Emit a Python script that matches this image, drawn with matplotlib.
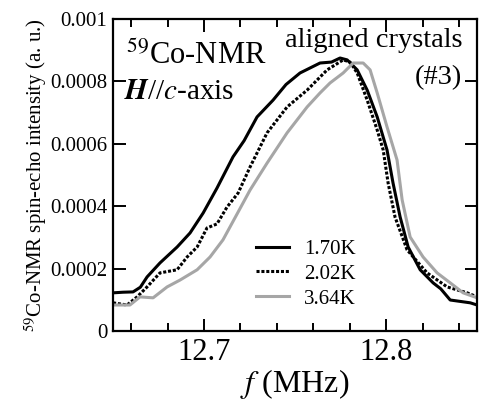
import matplotlib
matplotlib.use("Agg")
import matplotlib.pyplot as plt
from matplotlib.ticker import MultipleLocator

plt.rcParams['font.family'] = ['Liberation Serif', 'DejaVu Serif']
plt.rcParams['mathtext.fontset'] = 'stix'

# spectra
# 1.70 K
f_170 = [12.650, 12.6555, 12.661, 12.6650, 12.6687, 12.6758, 12.6852, 12.6923, 12.6995, 12.7071,
         12.7159, 12.7220, 12.7291, 12.7379, 12.7450, 12.7527, 12.7637, 12.7700, 12.7747, 12.7786, 12.7841,
         12.7896, 12.7951, 12.8005, 12.8038, 12.8077, 12.8121, 12.8187, 12.8258,
         12.8300, 12.8352, 12.8462, 12.850]
I_170 = [0.000122, 0.000124, 0.000125, 0.000140, 0.000173, 0.000218, 0.000269, 0.000314, 0.000378,
         0.000458, 0.000558, 0.000610, 0.000686, 0.000740, 0.000790, 0.000827, 0.000859, 0.000862, 0.000875,
         0.000869, 0.000837, 0.000772, 0.000686, 0.000580, 0.000474, 0.000365,
         0.000269, 0.000196, 0.000154, 0.000135, 0.000099, 0.000090, 0.000083]

# 2.02 K
f_202 = [12.650, 12.6577, 12.6632, 12.6687, 12.6758, 12.6852, 12.6907, 12.6962,
         12.7016, 12.7071, 12.7126, 12.7187, 12.7253, 12.7346, 12.7456, 12.7566,
         12.7676, 12.7764, 12.7802, 12.7841, 12.7896, 12.7951, 12.7984, 12.8011,
         12.8049, 12.8115, 12.8225, 12.8335, 12.8445, 12.850]
I_202 = [0.000090, 0.000083, 0.000109, 0.000141, 0.000186, 0.000196, 0.000237,
         0.000269, 0.000330, 0.000343, 0.000397, 0.000442, 0.000526, 0.000635,
         0.000718, 0.000772, 0.000837, 0.000869, 0.000862, 0.000827, 0.000740,
         0.000644, 0.000580, 0.000474, 0.000365, 0.000260, 0.000186, 0.000141,
         0.000122, 0.000109]

# 3.64 K
f_364 = [12.650, 12.6593, 12.6648, 12.6720, 12.6797, 12.6868, 12.6962, 12.7033,
         12.7104, 12.7187, 12.7253, 12.7346, 12.7456, 12.7566, 12.7637, 12.7692,
         12.7764, 12.7819, 12.7874, 12.7912, 12.7951, 12.8005, 12.8060, 12.8088,
         12.8132, 12.8203, 12.8280, 12.8352, 12.8423, 12.850]
I_364 = [0.000083, 0.000083, 0.000109, 0.000106, 0.000141, 0.000163, 0.000196,
         0.000237, 0.000292, 0.000381, 0.000452, 0.000538, 0.000635, 0.000718,
         0.000763, 0.000795, 0.000827, 0.000859, 0.000859, 0.000837, 0.000763,
         0.000654, 0.000548, 0.000420, 0.000301, 0.000237, 0.000186, 0.000154,
         0.000122, 0.000106]

labels = ['1.70K', '2.02K', '3.64K']
yticks = [0, 0.0002, 0.0004, 0.0006, 0.0008, 0.001]
ytick_labels = ['0', '0.0002', '0.0004', '0.0006', '0.0008', '0.001']
xticks = [12.7, 12.8]
xtick_labels = ['12.7', '12.8']

fig = plt.figure(figsize=(4.81, 4.05), dpi=100)
ax = fig.add_axes([0.235, 0.183, 0.757, 0.770])

ax.plot(f_170, I_170, color='black', lw=2.2, label=labels[0])
ax.plot(f_202, I_202, color='black', lw=2.2, ls=(0, (1, 0.6)), label=labels[1])
ax.plot(f_364, I_364, color='#a6a6a6', lw=2.2, label=labels[2])

ax.set_xlim(12.65, 12.85)
ax.set_ylim(0, 0.001)
ax.set_xticks(xticks)
ax.set_xticklabels(xtick_labels, fontsize=22)
ax.xaxis.set_minor_locator(MultipleLocator(0.02))
ax.set_yticks(yticks)
ax.set_yticklabels(ytick_labels, fontsize=15)

ax.tick_params(which='both', direction='in', top=True, right=True, width=1.4)
ax.tick_params(which='major', length=9)
ax.tick_params(which='minor', length=6)
ax.tick_params(axis='x', pad=5)
ax.tick_params(axis='y', pad=4)
for s in ax.spines.values():
    s.set_linewidth(1.6)

ax.set_xlabel('$f$ (MHz)', fontsize=23, labelpad=0)
ax.set_ylabel('$^{59}$Co-NMR spin-echo intensity (a. u.)', fontsize=15, labelpad=1)

ax.text(0.035, 0.855, '$^{59}$Co-NMR', transform=ax.transAxes, fontsize=22)
ax.text(0.03, 0.745, r'$\mathbfit{H}$//$c$-axis', transform=ax.transAxes, fontsize=21)
ax.text(0.959, 0.91, 'aligned crystals', transform=ax.transAxes, fontsize=20.5, ha='right')
ax.text(0.959, 0.79, '(#3)', transform=ax.transAxes, fontsize=20.5, ha='right')

leg = ax.legend(loc='lower left', bbox_to_anchor=(0.37, 0.045), frameon=False,
                fontsize=15, handlelength=1.6, handletextpad=0.7, labelspacing=0.25,
                borderaxespad=0)

fig.savefig('out.png', dpi=100)
